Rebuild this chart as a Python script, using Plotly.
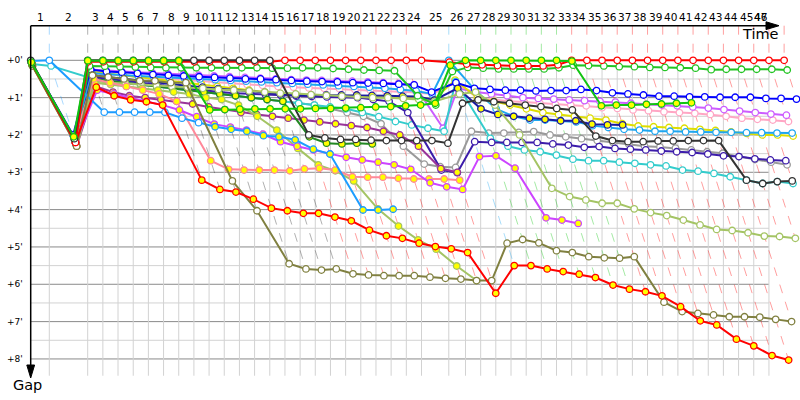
import plotly.graph_objects as go

# leader lap times in seconds, laps 1..47
lead_lap_s = [93.8, 193.6,
              76.5, 76.4, 76.6, 76.5, 76.5, 76.4, 76.6, 76.5, 76.5, 76.5, 76.4, 76.6,
              76.5, 76.5, 76.4, 76.6, 76.5, 76.5, 76.5, 76.4, 76.6, 76.5,
              137.6, 84.2,
              76.5, 76.4, 76.6, 76.5, 76.5, 76.5, 76.4, 76.6, 76.5, 76.5, 76.5,
              76.4, 76.6, 76.5, 76.5, 76.5, 76.4, 76.6, 76.5, 76.5, 76.5]

# gap to leader (minutes) at the end of each lap, lap 0 first
gap_black = [0.0, 2.1,
             0.0, 0.0, 0.0, 0.0, 0.0, 0.0, 0.0, 0.0, 0.0, 0.0, 0.0, 0.0, 0.0,
             2.0, 2.08, 2.12, 2.12, 2.14, 2.15, 2.15, 2.15, 2.15, 2.22,
             1.15, 1.06, 1.11, 1.15, 1.2, 1.24, 1.29, 1.33,
             2.03, 2.15, 2.18, 2.18, 2.16, 2.16, 2.15, 2.15, 2.15,
             3.21, 3.3, 3.25, 3.23]
gap_lime = [0.05, 2.05,
            0.01, 0.01, 0.01, 0.01, 0.01, 0.01, 0.01,
            1.33, 1.32, 1.31, 1.3, 1.3, 1.3, 1.3, 1.29, 1.29, 1.28, 1.27, 1.25, 1.24, 1.22, 1.2,
            1.15, 0.13,
            0.0, 0.0, 0.0, 0.0, 0.0, 0.0, 0.0,
            0.02,
            1.22, 1.2, 1.2, 1.18, 1.17, 1.15, 1.14]
gap_red1 = [0.05, 2.2,
            0.04, 0.04, 0.04, 0.04, 0.04, 0.04, 0.04, 0.04, 0.04, 0.04, 0.04, 0.04, 0.04,
            0.0, 0.0, 0.0, 0.0, 0.0, 0.0, 0.0, 0.0, 0.0, 0.0,
            0.05, 0.1, 0.12, 0.14, 0.15, 0.15, 0.15, 0.12,
            0.0, 0.0, 0.0, 0.0, 0.0, 0.0, 0.0, 0.0, 0.0, 0.0, 0.0, 0.0, 0.0, 0.0, 0.0]
gap_green2 = [0.1, 2.15,
              0.15, 0.16, 0.17, 0.18, 0.19, 0.2, 0.2,
              0.2, 0.2, 0.2, 0.2, 0.2, 0.21, 0.21, 0.2, 0.2, 0.22, 0.24, 0.26, 0.27, 0.28,
              0.95, 1.2, 0.3,
              0.19, 0.21, 0.23, 0.23, 0.23, 0.23, 0.2,
              0.13, 0.14, 0.15, 0.17, 0.17, 0.19, 0.19, 0.2, 0.21, 0.25, 0.24, 0.24, 0.24, 0.24, 0.26]
gap_red2 = [0.1, 2.2, 0.72, 0.95, 1.06, 1.11, 1.2, 3.21, 3.46, 3.53, 3.72, 3.96, 4.03, 4.1,
            4.1, 4.2, 4.3, 4.55, 4.7, 4.77, 4.9, 4.99, 5.05, 5.15, 6.24, 5.5, 5.5, 5.59, 5.66,
            5.73, 5.82, 6.02, 6.13, 6.2, 6.31, 6.6, 6.98, 7.09, 7.47, 7.65, 7.91, 8.03]
gap_olive = [0.15, 2.3, 0.4, 0.45, 0.5, 0.55, 0.55, 0.6, 0.6, 3.23, 4.03, 5.45, 5.59, 5.62,
             5.59, 5.72, 5.75, 5.77, 5.77, 5.77, 5.81, 5.84, 5.86, 5.9, 5.9, 4.9, 4.8, 4.89,
             5.1, 5.15, 5.26, 5.29, 5.3, 5.26, 6.48, 6.73, 6.78, 6.82, 6.87, 6.87, 6.88, 6.94, 7.0]
gap_yg = [0.15, 2.3, 0.6, 0.65, 0.7, 0.75, 0.8, 0.85, 0.9, 1.0, 1.05, 1.2, 1.5, 1.87, 2.36,
          2.8, 2.96, 3.23, 3.98, 4.44, 4.81, 5.06, 5.51, 5.9]
gap_yg2 = [0.1, 2.2, 0.55, 0.6, 0.62, 0.65, 0.68, 0.7, 0.72, 0.75, 0.78, 0.8, 0.82, 0.85, 0.88,
           0.9, 0.92, 0.94, 0.96, 0.98, 1.0, 1.0, 1.02, 1.05, 1.1,
           0.9, 0.85, 1.2, 2.0, 3.43, 3.65, 3.74, 3.83, 3.83, 3.98, 4.08, 4.16, 4.28, 4.41,
           4.53, 4.56, 4.62, 4.71, 4.72, 4.77]
gap_pink = [0.1, 2.1, 0.5, 0.6, 0.7, 0.8, 0.9, 1.1, 2.69, 2.92, 2.94, 2.94, 2.94, 2.96, 2.91,
            2.89, 2.94, 3.12, 3.13, 3.13, 3.16, 3.18, 3.18, 3.18, 3.21]
gap_violet = [0.1, 2.2, 0.8, 0.9, 1.0, 1.1, 1.2, 1.33, 1.51, 1.71, 1.79, 1.87, 1.98, 2.18, 2.3,
              2.4, 2.51, 2.6, 2.67, 2.73, 2.8, 2.92, 3.28, 3.39, 3.46, 2.58, 2.56, 2.89, 4.22,
              4.28, 4.37]
gap_dodger = [0.02, 0.0, 1.39, 1.39, 1.39, 1.39, 1.39, 1.55, 1.67, 1.78, 1.85, 1.9, 2.02, 2.05,
              2.13, 2.38, 2.51, 4.01, 4.01, 3.99]
gap_sky = [0.05, 2.1, 0.35, 0.38, 0.4, 0.42, 0.44, 0.46, 0.48, 0.5, 0.52, 0.54, 0.56, 0.58, 0.6,
           0.62, 0.64, 0.66, 0.68, 0.7, 0.72, 0.75, 0.78, 0.82, 0.9,
           0.0, 0.8, 1.3, 1.5, 1.6, 1.6, 1.62, 1.65,
           1.75, 1.8, 1.85, 1.87, 1.9, 1.9, 1.92, 1.92, 1.93, 1.93, 1.94, 1.94, 1.95, 1.95]
gap_turq = [0.1, 0.15, 0.5, 0.55, 0.6, 0.65, 0.7, 0.75, 0.8, 0.85, 0.9, 0.95, 1.0, 1.05, 1.1,
            1.15, 1.2, 1.25, 1.3, 1.4, 1.51, 1.64, 1.73, 1.82, 1.9,
            0.57, 2.09, 2.3, 2.4, 2.45, 2.54, 2.65, 2.69, 2.69, 2.73, 2.76, 2.8, 2.83, 2.94,
            2.97, 3.03, 3.12, 3.21, 3.3, 3.25, 3.3]
gap_blue = [0.05, 2.0, 0.25, 0.3, 0.32, 0.35, 0.38, 0.4, 0.42, 0.44, 0.46, 0.48, 0.5, 0.5, 0.52,
            0.54, 0.56, 0.57, 0.58, 0.6, 0.61, 0.62, 0.64, 0.66, 0.85,
            0.6, 0.75, 0.78, 0.8, 0.8, 0.82, 0.81, 0.81,
            0.78, 0.81, 0.87, 0.9, 0.93, 0.96, 0.96, 0.98, 0.98, 0.99, 0.99, 0.99, 1.02, 1.02, 1.04]
gap_navy = [0.1, 2.2, 0.4, 0.45, 0.5, 0.55, 0.6, 0.64, 0.68, 0.72, 0.76, 0.8, 0.83, 0.86, 0.9,
            0.93, 0.93, 0.93, 0.93, 0.93, 0.94, 0.95, 0.96, 0.97, 1.07,
            0.75, 1.3, 1.45, 1.5, 1.55, 1.58, 1.62, 1.62, 1.71, 1.73, 1.73]
gap_indigo = [0.1, 2.2, 0.45, 0.5, 0.55, 0.6, 0.65, 0.7, 0.75, 0.8, 0.85, 0.88, 0.9, 0.92, 0.94,
              0.96, 0.97, 0.98, 0.99, 1.0, 1.05, 1.1, 1.4, 2.94, 3.01,
              2.18, 2.2, 2.2, 2.2,
              2.2, 2.24, 2.27, 2.33, 2.31, 2.36, 2.38, 2.4, 2.43, 2.45, 2.47, 2.51, 2.56, 2.58,
              2.64, 2.67, 2.69]
gap_gray = [0.1, 2.25, 0.5, 0.55, 0.6, 0.65, 0.7, 0.75, 0.8, 0.85, 0.9, 0.95, 1.0, 1.05, 1.1,
            1.15, 1.2, 1.3, 1.4, 1.5, 1.7, 2.3, 2.78, 2.85, 2.87,
            1.9, 1.95, 1.95, 1.93, 1.91, 2.0, 2.05, 2.1,
            2.15, 2.2, 2.25, 2.3, 2.32, 2.35, 2.4, 2.45, 2.49, 2.58, 2.66, 2.73, 2.8]
gap_gold = [0.1, 2.15, 0.3, 0.35, 0.4, 0.45, 0.5, 0.55, 0.6, 0.65, 0.7, 0.75, 0.8, 0.85, 0.9,
            0.92, 0.94, 0.95, 0.96, 0.97, 0.98, 0.99, 1.0, 1.02, 1.05,
            0.53, 1.0, 1.1, 1.2, 1.3, 1.4, 1.45, 1.5,
            1.55, 1.6, 1.7, 1.76, 1.78, 1.8, 1.82, 1.85, 1.88, 1.92, 1.96, 2.0, 2.0, 2.03]
gap_dkgreen = [0.1, 2.25, 0.5, 0.55, 0.6, 0.65, 0.7, 0.75, 0.8, 0.85, 0.9, 0.95, 1.0, 1.05, 1.1,
               2.05, 2.22, 2.24, 2.22, 2.24]
gap_ltpink = [0.1, 2.1, 0.35, 0.38, 0.4, 0.43, 0.46, 0.5, 0.53, 0.56, 0.6, 0.63, 0.65, 0.67, 0.7,
              0.72, 0.74, 0.75, 0.76, 0.78, 0.8, 0.82, 0.84, 0.86, 0.9,
              0.6, 1.0, 1.05, 1.1, 1.12, 1.15, 1.18, 1.2,
              1.22, 1.27, 1.29, 1.33, 1.35, 1.38, 1.4, 1.42, 1.45, 1.5, 1.55, 1.58, 1.6, 1.64]
gap_violet2 = [0.1, 2.1, 0.25, 0.28, 0.3, 0.32, 0.34, 0.36, 0.38, 0.4, 0.42, 0.44, 0.46, 0.48, 0.5,
               0.52, 0.53, 0.54, 0.55, 0.56, 0.58, 0.6, 0.62, 0.65, 1.82,
               0.75, 0.85, 0.9, 0.95, 1.0, 1.02, 1.04, 1.06,
               1.08, 1.1, 1.12, 1.15, 1.18, 1.2, 1.22, 1.25, 1.28, 1.32, 1.36, 1.4, 1.44, 1.47]
gap_purple = [0.1, 2.3, 0.7, 0.85, 0.95, 1.0, 1.05, 1.1, 1.17, 1.25, 1.32, 1.4, 1.45, 1.5, 1.55,
              1.6, 1.65, 1.7, 1.75, 1.8, 1.9, 2.0, 2.3, 2.9, 3.0]

# laps driven by the second driver (drawn with yellow markers)
stint_b_lime = [(0, 47)]
stint_b_red2 = [(0, 47)]
stint_b_pink = [(0, 47)]
stint_b_violet = [(0, 47)]
stint_b_yg = [(0, 47)]
stint_b_dkgreen = [(0, 47)]
stint_b_navy = [(0, 47)]
stint_b_purple = [(0, 47)]
stint_b_dodger = [(9, 19)]

# draw order: first is at the bottom
cars = [
    ("gray", "#9a9a9a", gap_gray, []),
    ("ltpink", "#ffa6c4", gap_ltpink, []),
    ("violet2", "#cc5cff", gap_violet2, []),
    ("gold", "#dede00", gap_gold, []),
    ("sky", "#1ea6f0", gap_sky, []),
    ("turq", "#33cccc", gap_turq, []),
    ("indigo", "#3c1caa", gap_indigo, []),
    ("blue", "#0000ff", gap_blue, []),
    ("navy", "#1a1aa0", gap_navy, stint_b_navy),
    ("purple", "#993399", gap_purple, stint_b_purple),
    ("dkgreen", "#228822", gap_dkgreen, stint_b_dkgreen),
    ("yg2", "#a4c464", gap_yg2, []),
    ("yg", "#a4c464", gap_yg, stint_b_yg),
    ("pink", "#ff8899", gap_pink, stint_b_pink),
    ("violet", "#cc44ff", gap_violet, stint_b_violet),
    ("dodger", "#1c9cff", gap_dodger, stint_b_dodger),
    ("olive", "#808040", gap_olive, []),
    ("red2", "#ff0000", gap_red2, stint_b_red2),
    ("green2", "#22c422", gap_green2, []),
    ("red1", "#ff0000", gap_red1, []),
    ("black", "#333333", gap_black, []),
    ("lime", "#11c411", gap_lime, stint_b_lime),
]

W, H = 800, 400
X0, XS = 30.7, 11.9      # px of race start, px per minute (time axis)
Y0, YS = 60.3, 37.33     # px of gap 0, px per minute (gap axis)
TOP = (25.7 - Y0) / YS   # gap value of the top axis line
BOTTOM = 8.45


def px(x):
    return x / W


def py(y):
    return 1 - y / H


def rgba(hexc, a):
    h = hexc.lstrip("#")
    return "rgba(%d,%d,%d,%.2f)" % (int(h[0:2], 16), int(h[2:4], 16), int(h[4:6], 16), a)


# cumulative leader time (minutes) at the end of each lap
T = [0.0]
for s in lead_lap_s:
    T.append(T[-1] + s / 60.0)
n_laps = len(lead_lap_s)

fig = go.Figure()

# lap lines: leader's crossing, then the same lap for the cars behind
for k in range(1, n_laps + 1):
    at_k = [(c[2][k], i) for i, c in enumerate(cars) if k < len(c[2]) and c[2][k] is not None]
    if not at_k:
        continue
    gmax = max(g for g, _ in at_k)
    lead_i = min(at_k)[1]
    col = rgba(cars[lead_i][1], 0.38)
    fig.add_trace(go.Scatter(
        x=[T[k], T[k], T[k] + gmax], y=[TOP, 0, gmax], mode="lines",
        line=dict(color=col, width=1, dash="dash"), hoverinfo="skip", showlegend=False))

# cars
for name, color, gaps, stint in cars:
    xs, ys, fills = [], [], []
    for lap, g in enumerate(gaps):
        if g is None:
            xs.append(None)
            ys.append(None)
            fills.append("white")
            continue
        xs.append(T[lap] + g)
        ys.append(g)
        yellow = any(a <= lap <= b for a, b in stint)
        fills.append("#ffff00" if yellow else "white")
    fig.add_trace(go.Scatter(
        x=xs, y=ys, mode="lines+markers", name=name,
        line=dict(color=color, width=2),
        marker=dict(size=6.5, color=fills, line=dict(color=color, width=1.3)),
        showlegend=False))

shapes = []
# grid
t_end = T[n_laps - 1]
for i in range(17):
    g = i * 0.5
    major = (i % 2 == 0)
    shapes.append(dict(type="line", layer="below", x0=T[0], x1=t_end, y0=g, y1=g,
                       line=dict(color="#8a8a8a" if major else "#d2d2d2", width=1)))
for k in range(1, n_laps):
    shapes.append(dict(type="line", layer="below", x0=T[k], x1=T[k], y0=0, y1=BOTTOM,
                       line=dict(color="#d2d2d2", width=1)))

# axes with arrows
shapes.append(dict(type="line", xref="paper", yref="paper",
                   x0=px(30.7), x1=px(770), y0=py(25.7), y1=py(25.7),
                   line=dict(color="black", width=1.5)))
shapes.append(dict(type="path", xref="paper", yref="paper",
                   path="M %f %f L %f %f L %f %f Z" % (px(766), py(21.8), px(779), py(25.7), px(766), py(29.6)),
                   fillcolor="black", line=dict(color="black", width=1)))
shapes.append(dict(type="line", xref="paper", yref="paper",
                   x0=px(30.7), x1=px(30.7), y0=py(25.7), y1=py(368),
                   line=dict(color="black", width=1.5)))
shapes.append(dict(type="path", xref="paper", yref="paper",
                   path="M %f %f L %f %f L %f %f Z" % (px(26.8), py(365), px(30.7), py(378), px(34.6), py(365)),
                   fillcolor="black", line=dict(color="black", width=1)))

lab_font = dict(size=10.5, color="black", family="DejaVu Sans")
ann = []
for k in range(1, n_laps + 1):
    mid = (T[k - 1] + T[k]) / 2
    if X0 + XS * mid + 6 > X0 + XS * t_end:
        ann.append(dict(x=t_end, y=py(17), xref="x", yref="paper", text=str(k), showarrow=False,
                        xanchor="right", yanchor="middle", font=lab_font))
    else:
        ann.append(dict(x=mid, y=py(17), xref="x", yref="paper", text=str(k), showarrow=False,
                        xanchor="center", yanchor="middle", font=lab_font))
for m in range(9):
    ann.append(dict(x=px(25), y=m, xref="paper", yref="y", text="+%d'" % m, showarrow=False,
                    xanchor="right", yanchor="middle",
                    font=dict(size=9, color="black", family="DejaVu Sans")))
ann.append(dict(x=px(760), y=py(34), xref="paper", yref="paper", text="Time", showarrow=False,
                xanchor="center", yanchor="middle",
                font=dict(size=14.5, color="black", family="DejaVu Sans")))
ann.append(dict(x=px(27), y=py(385), xref="paper", yref="paper", text="Gap", showarrow=False,
                xanchor="center", yanchor="middle",
                font=dict(size=14.5, color="black", family="DejaVu Sans")))

fig.update_layout(
    width=W, height=H, margin=dict(l=0, r=0, t=0, b=0),
    paper_bgcolor="white", plot_bgcolor="white",
    xaxis=dict(range=[-X0 / XS, (W - X0) / XS], visible=False, fixedrange=True),
    yaxis=dict(range=[(H - Y0) / YS, -Y0 / YS], visible=False, fixedrange=True),
    shapes=shapes, annotations=ann, hovermode=False,
)

fig.write_html("out.html", config={"displayModeBar": False},
               post_script="document.body.style.margin='0';")
